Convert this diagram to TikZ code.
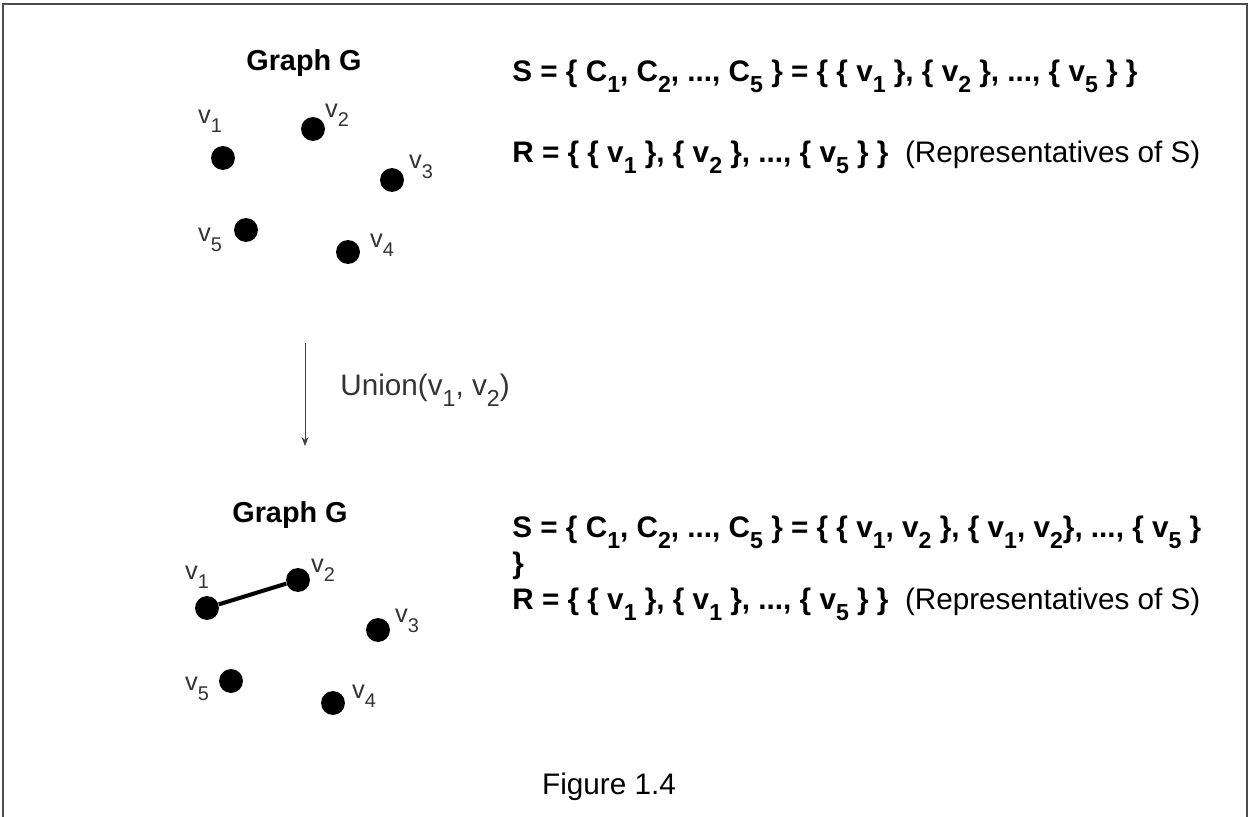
\documentclass[tikz,border=0pt]{standalone}
\usepackage{fontspec}
\setmainfont{Liberation Sans}
\usepackage{graphicx}
\usetikzlibrary{arrows.meta,positioning}
\newcommand{\lo}[1]{\raisebox{-0.7ex}{\scalebox{0.78}{#1}}}

\begin{document}
\begin{tikzpicture}[x=0.02cm,y=-0.02cm,
  vtx/.style={circle,fill=black,inner sep=0pt,minimum size=13.6pt},
  vlab/.style={font=\fontsize{14.5}{16}\selectfont,text=black!80,inner sep=0pt},
  title/.style={font=\fontsize{16.4}{19}\selectfont\bfseries,inner sep=0pt},
  settxt/.style={font=\fontsize{16.9}{20}\selectfont,anchor=west,inner sep=0pt},
  arr/.style={-{Stealth[length=1.8mm,width=1.4mm]},line width=0.5pt,black!75}
]
  \useasboundingbox (0,0) rectangle (1250,817);
  % frame
  \draw[black!70,line width=1.1pt] (3,817) -- (3,4) -- (1247,4) -- (1247,817);

  % Graph G before
  \node[title] (g1) at (304,63) {Graph G};
  \node[vtx] (a1) at (223,158) {};
  \node[vtx] (a2) at (313,129) {};
  \node[vtx] (a3) at (392,180) {};
  \node[vtx] (a4) at (348,252) {};
  \node[vtx] (a5) at (246,230) {};
  \node[vlab] (la1) at (210,121) {v\lo{1}};
  \node[vlab] (la2) at (337,115) {v\lo{2}};
  \node[vlab] (la3) at (421,167) {v\lo{3}};
  \node[vlab] (la4) at (382,245) {v\lo{4}};
  \node[vlab] (la5) at (210,240) {v\lo{5}};

  \node[settxt] (s1) at (512,76) {\textbf{S = \{ C\lo{1}, C\lo{2}, ..., C\lo{5} \} = \{ \{ v\lo{1} \}, \{ v\lo{2} \}, ..., \{ v\lo{5} \} \}}};
  \node[settxt] (r1) at (512,157) {\textbf{R = \{ \{ v\lo{1} \}, \{ v\lo{2} \}, ..., \{ v\lo{5} \} \}}\ \ (Representatives of S)};

  % union step
  \coordinate (top) at (305,343);
  \coordinate (bot) at (305,446);
  \draw[arr] (top) -- (bot);
  \node[settxt,text=black!80] (un) at (340,390) {Union(v\lo{1}, v\lo{2})};

  % Graph G after
  \node[title] (g2) at (290,515) {Graph G};
  \node[vtx] (b1) at (207,608) {};
  \node[vtx] (b2) at (298,580) {};
  \node[vtx] (b3) at (378,630) {};
  \node[vtx] (b4) at (333,703) {};
  \node[vtx] (b5) at (231,681) {};
  \draw[line width=2.3pt] (b1) -- (b2);
  \node[vlab] (lb1) at (197,577) {v\lo{1}};
  \node[vlab] (lb2) at (323,570) {v\lo{2}};
  \node[vlab] (lb3) at (407,621) {v\lo{3}};
  \node[vlab] (lb4) at (364,696) {v\lo{4}};
  \node[vlab] (lb5) at (197,689) {v\lo{5}};

  \node[settxt] (s2) at (512,532) {\textbf{S = \{ C\lo{1}, C\lo{2}, ..., C\lo{5} \} = \{ \{ v\lo{1}, v\lo{2} \}, \{ v\lo{1}, v\lo{2}\}, ..., \{ v\lo{5} \}}};
  \node[settxt] (s2b) at (512,566) {\textbf{\}}};
  \node[settxt] (r2) at (512,604) {\textbf{R = \{ \{ v\lo{1} \}, \{ v\lo{1} \}, ..., \{ v\lo{5} \} \}}\ \ (Representatives of S)};

  \node[settxt,anchor=center] (cap) at (609,787) {Figure 1.4};
\end{tikzpicture}
\end{document}
